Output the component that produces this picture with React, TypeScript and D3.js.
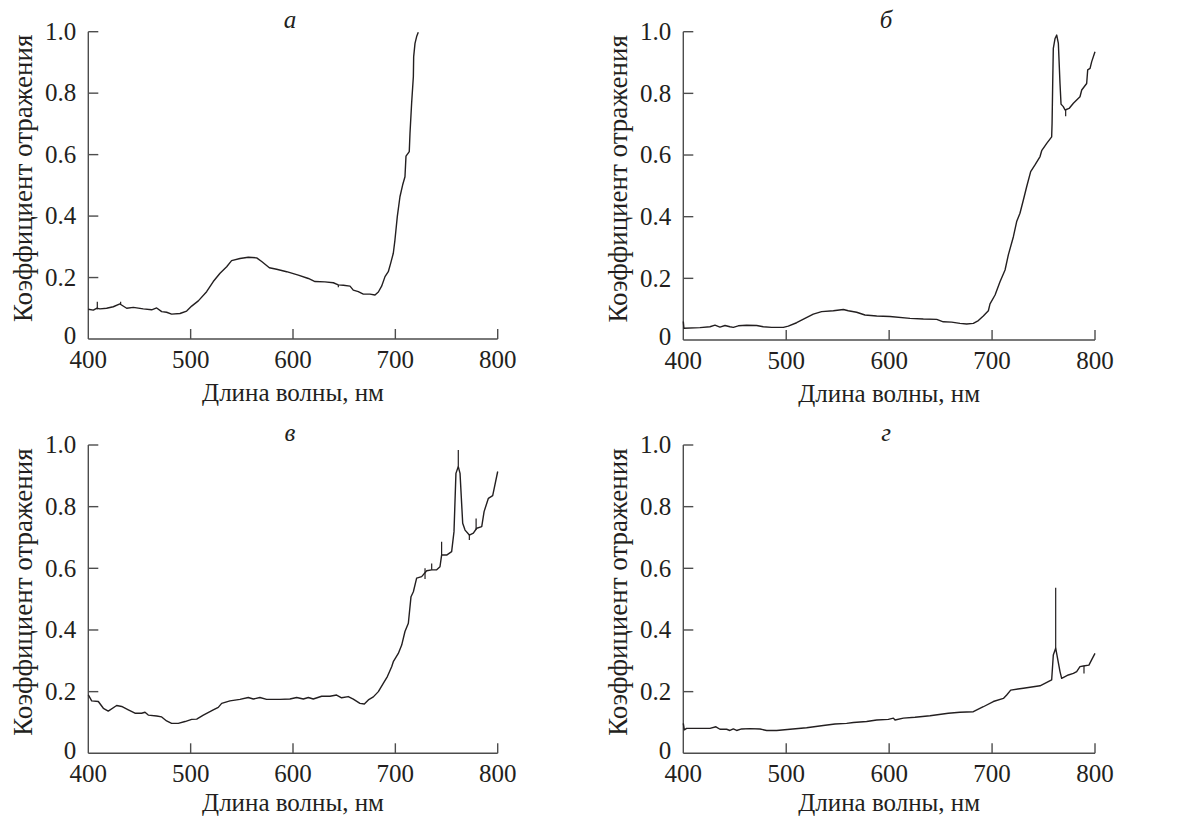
import React from 'react';
import * as d3 from 'd3';

const xTicks = [400, 500, 600, 700, 800];
const yTicks = [0, 0.2, 0.4, 0.6, 0.8, 1.0];
const yTickLabels = ['0', '0.2', '0.4', '0.6', '0.8', '1.0'];
const panelLetters = ['а', 'б', 'в', 'г'];
const xTitle = 'Длина волны, нм';
const yTitle = 'Коэффициент отражения';

// [wavelength, reflectance]
const seriesA: [number, number][] = [
  [400, 0.097], [404.9, 0.094], [408.1, 0.1], [411.4, 0.098], [417.9, 0.1], [424.4, 0.105],
  [430.9, 0.114], [437.5, 0.1], [444, 0.103], [453.7, 0.098], [461.9, 0.095], [466.8, 0.101],
  [471.7, 0.089], [476.5, 0.087], [481.4, 0.081], [489.6, 0.083], [496.1, 0.091], [501, 0.107],
  [507.5, 0.124], [515.6, 0.154], [522.1, 0.187], [528.7, 0.214], [535.2, 0.235], [540, 0.255],
  [548.2, 0.262], [556.3, 0.266], [564.5, 0.264], [569.4, 0.252], [576.9, 0.232], [584, 0.227],
  [593.8, 0.219], [605.2, 0.208], [615, 0.197], [621.5, 0.187], [631.2, 0.186], [639.4, 0.183],
  [644.3, 0.176], [649.2, 0.175], [655.7, 0.172], [658.9, 0.159], [663.8, 0.154], [668.7, 0.146],
  [675.2, 0.146], [680.1, 0.143], [683.4, 0.153], [686.6, 0.172], [689.9, 0.203], [693.1, 0.219],
  [695.4, 0.246], [698, 0.279], [699.6, 0.322], [701.9, 0.398], [704.5, 0.463], [707.1, 0.501],
  [709.4, 0.528], [710.4, 0.595], [713.6, 0.61], [714.3, 0.669], [715.9, 0.767], [717.6, 0.854],
  [717.9, 0.919], [719.2, 0.962], [720.8, 0.984], [722.4, 0.998],
];
const seriesB: [number, number][] = [
  [400, 0.06], [400.6, 0.038], [416.2, 0.04], [425.9, 0.043], [430.8, 0.048], [435.6, 0.042],
  [440.5, 0.047], [445.3, 0.043], [448.6, 0.041], [453.4, 0.046], [461.5, 0.048], [471.3, 0.047],
  [477.7, 0.043], [485.8, 0.041], [497.2, 0.041], [502, 0.045], [510.1, 0.056], [518.2, 0.07],
  [526.3, 0.084], [534.4, 0.092], [545.8, 0.095], [555.5, 0.099], [560.3, 0.095], [568.4, 0.09],
  [576.5, 0.081], [587.9, 0.078], [600.8, 0.076], [620.3, 0.07], [633.2, 0.068], [646.2, 0.067],
  [652.6, 0.059], [660.7, 0.058], [668.8, 0.054], [675.3, 0.052], [681.8, 0.054], [686.7, 0.063],
  [691.5, 0.078], [696.4, 0.095], [698, 0.117], [702.9, 0.146], [707.7, 0.189], [712.6, 0.227],
  [715.8, 0.276], [720.7, 0.335], [723.9, 0.384], [727.1, 0.411], [730.4, 0.454], [733.6, 0.497],
  [737.5, 0.546], [741.7, 0.568], [746.6, 0.595], [748.2, 0.614], [753.1, 0.638], [757.9, 0.659],
  [758.3, 0.703], [758.9, 0.832], [759.5, 0.946], [761.2, 0.978], [762.8, 0.989], [764.4, 0.962],
  [766, 0.832], [767, 0.765], [769.2, 0.757], [770.9, 0.746], [774.8, 0.751], [779, 0.768],
  [785.4, 0.789], [787.1, 0.811], [791.9, 0.832], [792.9, 0.876], [795.2, 0.881], [796.8, 0.903],
  [800, 0.935],
];
const seriesC: [number, number][] = [
  [400, 0.19], [403.3, 0.17], [409.8, 0.168], [414.7, 0.146], [419.5, 0.137], [427.7, 0.155],
  [432.6, 0.152], [439.1, 0.141], [445.6, 0.13], [452.1, 0.13], [455.4, 0.133], [458.6, 0.124],
  [466.8, 0.121], [471.7, 0.118], [476.5, 0.105], [481.4, 0.097], [487.9, 0.097], [494.5, 0.103],
  [501, 0.11], [505.9, 0.111], [512.4, 0.124], [522.1, 0.141], [527, 0.149], [530.3, 0.162],
  [538.4, 0.17], [548.2, 0.175], [556.3, 0.181], [561.2, 0.176], [567.7, 0.181], [574.2, 0.175],
  [587.3, 0.175], [597, 0.176], [603.6, 0.181], [610.1, 0.176], [615, 0.181], [619.8, 0.176],
  [628, 0.185], [636.1, 0.185], [642.6, 0.189], [647.5, 0.18], [654, 0.184], [658.9, 0.176],
  [665.4, 0.162], [669.7, 0.16], [673.6, 0.173], [678.5, 0.183], [683.4, 0.2], [688.2, 0.227],
  [692.2, 0.249], [696.4, 0.281], [698, 0.297], [702.9, 0.324], [706.2, 0.351], [709.4, 0.395],
  [712.7, 0.422], [715.3, 0.508], [717.6, 0.524], [720.8, 0.568], [725.7, 0.573], [730.6, 0.592],
  [735.5, 0.595], [740.4, 0.595], [743.6, 0.605], [745.2, 0.643], [750.1, 0.643], [755, 0.654],
  [757.3, 0.719], [759.2, 0.908], [761.5, 0.93], [763.2, 0.908], [765.8, 0.746], [768.1, 0.724],
  [772.3, 0.708], [776.2, 0.714], [779.5, 0.73], [784.4, 0.735], [786.7, 0.784], [790.9, 0.827],
  [795.1, 0.836], [800, 0.914],
];
const seriesD: [number, number][] = [
  [400, 0.097], [401, 0.076], [403.2, 0.081], [416.2, 0.081], [425.9, 0.081], [431.7, 0.086],
  [435.6, 0.078], [442.1, 0.078], [445.3, 0.074], [448.6, 0.079], [451.8, 0.074], [456.7, 0.079],
  [464.8, 0.08], [474.5, 0.079], [481, 0.074], [490.7, 0.074], [503.7, 0.078], [519.8, 0.083],
  [536, 0.09], [547.4, 0.095], [558.7, 0.097], [565.2, 0.1], [578.1, 0.103], [587.9, 0.108],
  [599.2, 0.11], [604.1, 0.114], [605.7, 0.108], [613.8, 0.114], [625.1, 0.117], [639.7, 0.122],
  [657.5, 0.13], [668.8, 0.133], [681.8, 0.135], [691.5, 0.151], [701.2, 0.168], [711, 0.178],
  [714.2, 0.189], [718.1, 0.205], [730.4, 0.211], [746.6, 0.219], [757.9, 0.238], [759.5, 0.319],
  [761.8, 0.341], [766, 0.265], [767.6, 0.243], [774.1, 0.254], [779, 0.259], [782.2, 0.265],
  [785.4, 0.281], [788.6, 0.283], [794.1, 0.286], [796.7, 0.303], [800, 0.324],
];

// narrow spikes: [wavelength, from, to]
const spikesA: [number, number, number][] = [[408.8, 0.097, 0.121], [431.6, 0.112, 0.121], [644.3, 0.176, 0.168]];
const spikesB: [number, number, number][] = [[771.5, 0.746, 0.726]];
const spikesC: [number, number, number][] = [
  [729, 0.565, 0.6], [735.5, 0.595, 0.616], [745.2, 0.643, 0.686],
  [761.5, 0.93, 0.984], [772.3, 0.708, 0.692], [778.9, 0.725, 0.762],
];
const spikesD: [number, number, number][] = [[761.8, 0.341, 0.537], [789.3, 0.283, 0.259]];

const FONT = 'Liberation Serif, Times New Roman, DejaVu Serif, serif';
const INK = '#231f20';
const AXIS = '#4d4d4d';

type Box = { left: number; right: number; top: number; bottom: number; titleGap: number };

const Panel = ({ data, spikes, box, letter }: { data: [number, number][]; spikes: [number, number, number][]; box: Box; letter: string }) => {
  const x = d3.scaleLinear().domain([400, 800]).range([box.left, box.right]);
  const y = d3.scaleLinear().domain([0, 1]).range([box.bottom, box.top]);
  const line = d3.line<[number, number]>().x(d => x(d[0])).y(d => y(d[1]));
  const cx = (box.left + box.right) / 2;
  const txt = { fontFamily: FONT, fontSize: 25, fill: INK } as React.CSSProperties;

  return (
    <g>
      {/* axes */}
      <line x1={x(400)} x2={x(800)} y1={y(0)} y2={y(0)} stroke={AXIS} strokeWidth={1.4} />
      <line x1={x(400)} x2={x(400)} y1={y(0)} y2={y(1)} stroke={AXIS} strokeWidth={1.4} />
      {xTicks.map(t => (
        <g key={'x' + t}>
          {t > 400 && <line x1={x(t)} x2={x(t)} y1={y(0)} y2={y(0) - 10} stroke={AXIS} strokeWidth={1.4} />}
          <text x={x(t)} y={y(0) + 29} textAnchor="middle" style={txt}>{t}</text>
        </g>
      ))}
      {yTicks.map((t, i) => (
        <g key={'y' + t}>
          {t > 0 && <line x1={x(400)} x2={x(400) + 10} y1={y(t)} y2={y(t)} stroke={AXIS} strokeWidth={1.4} />}
          <text x={x(400) - 12} y={y(t) + (t === 0 ? -3 : 0)} dy="0.33em" textAnchor="end" style={txt}>{yTickLabels[i]}</text>
        </g>
      ))}
      <text x={cx} y={box.bottom + box.titleGap} textAnchor="middle" style={txt}>{xTitle}</text>
      <text transform={`translate(${box.left - 56},${(box.top + box.bottom) / 2 - 7}) rotate(-90)`} textAnchor="middle" style={{ ...txt, fontSize: 27 }}>{yTitle}</text>
      <text x={cx - 3} y={box.top - 4} textAnchor="middle" style={{ ...txt, fontStyle: 'italic' }}>{letter}</text>

      {/* curve */}
      <path d={line(data) || ''} fill="none" stroke={INK} strokeWidth={1.4} strokeLinejoin="round" />
      {spikes.map((s, i) => (
        <line key={'s' + i} x1={x(s[0])} x2={x(s[0])} y1={y(s[1])} y2={y(s[2])} stroke={INK} strokeWidth={1.2} />
      ))}
    </g>
  );
};

const App = () => {
  const boxes: Box[] = [
    { left: 88.3, right: 497.7, top: 31.7, bottom: 339, titleGap: 62 },
    { left: 683.3, right: 1095, top: 31.7, bottom: 340, titleGap: 62 },
    { left: 88.3, right: 497.7, top: 445, bottom: 753.3, titleGap: 58 },
    { left: 683.3, right: 1095, top: 445, bottom: 753.3, titleGap: 58 },
  ];
  const all = [seriesA, seriesB, seriesC, seriesD];
  const spikes = [spikesA, spikesB, spikesC, spikesD];

  return (
    <svg width={1177} height={818} style={{ position: 'absolute', left: 0, top: 0, background: '#fff' }}>
      {boxes.map((b, i) => (
        <Panel key={i} data={all[i]} spikes={spikes[i]} box={b} letter={panelLetters[i]} />
      ))}
    </svg>
  );
};

export default App;
